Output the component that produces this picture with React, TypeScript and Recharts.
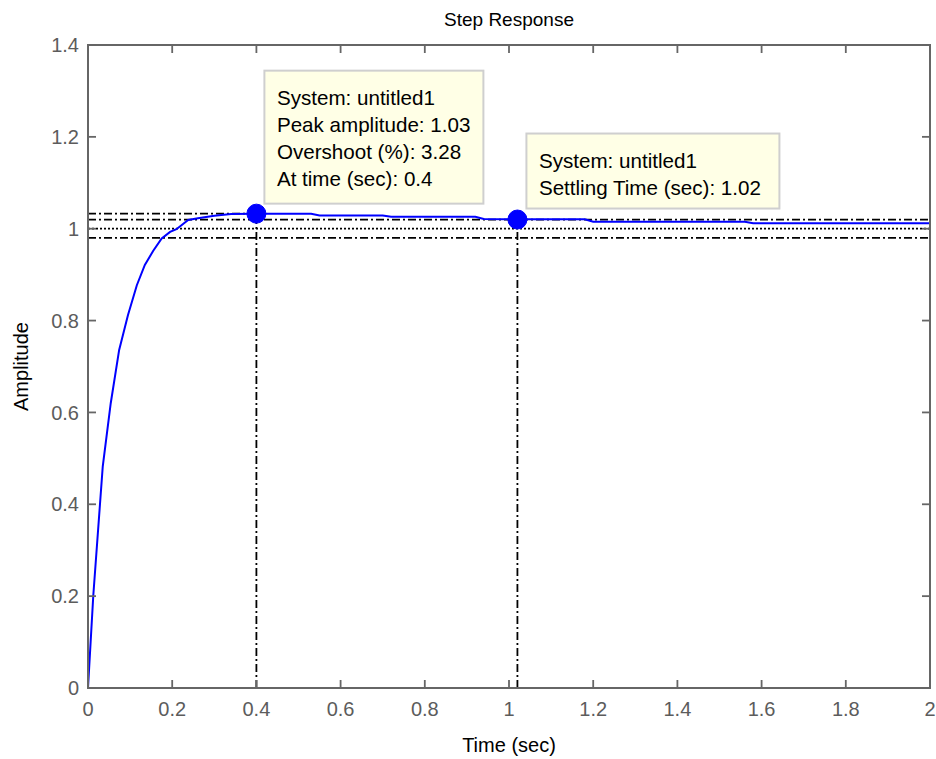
import React from 'react';
import { LineChart, Line, XAxis, YAxis, ReferenceLine, ReferenceDot, ReferenceArea, Label } from 'recharts';

const times = [0, 0.0126, 0.035, 0.054, 0.074, 0.095, 0.116, 0.135, 0.155, 0.175, 0.195, 0.21, 0.238, 0.261, 0.3, 0.34, 0.4, 0.53, 0.55, 0.7, 0.72, 0.92, 0.94, 1.02, 1.18, 1.2, 1.56, 1.58, 2.0];
const amplitude = [0, 0.202, 0.482, 0.62, 0.736, 0.812, 0.877, 0.921, 0.952, 0.979, 0.993, 0.999, 1.019, 1.023, 1.028, 1.032, 1.0328, 1.0325, 1.029, 1.029, 1.026, 1.026, 1.021, 1.0205, 1.0205, 1.015, 1.015, 1.012, 1.012];

const xTicks = [0, 0.2, 0.4, 0.6, 0.8, 1, 1.2, 1.4, 1.6, 1.8, 2];
const xTickLabels = ['0', '0.2', '0.4', '0.6', '0.8', '1', '1.2', '1.4', '1.6', '1.8', '2'];
const yTicks = [0, 0.2, 0.4, 0.6, 0.8, 1, 1.2, 1.4];
const yTickLabels = ['0', '0.2', '0.4', '0.6', '0.8', '1', '1.2', '1.4'];

const peakTime = 0.4;
const peakAmp = 1.0328;
const steadyState = 1.0;
const settleUpper = 1.02;
const settleLower = 0.98;
const settlingTime = 1.02;
const settlingAmp = 1.02;

const peakTip = ['System: untitled1', 'Peak amplitude: 1.03', 'Overshoot (%): 3.28', 'At time (sec): 0.4'];
const settleTip = ['System: untitled1', 'Settling Time (sec): 1.02'];

const data = times.map((t, i) => ({ t, v: amplitude[i] }));

const FONT = '"Liberation Sans", Arial, sans-serif';
const AXIS = '#666666';
const TICKTEXT = '#5c5c5c';
const TL = 8;
const DASHDOT = '8 3 2 3';
const RLW = 1.8;

const BottomTick = (p: any) => {
  const { x, y, payload } = p;
  return (
    <g>
      <line x1={x} x2={x} y1={y - 14} y2={y - 14 - TL} stroke={AXIS} strokeWidth={1.8} />
      <text x={x} y={y} dy="0.71em" textAnchor="middle" fill={TICKTEXT} fontSize={20} fontFamily={FONT}>
        {xTickLabels[xTicks.indexOf(payload.value)] ?? String(payload.value)}
      </text>
    </g>
  );
};

const LeftTick = (p: any) => {
  const { x, y, payload } = p;
  return (
    <g>
      <line x1={x + 9} x2={x + 9 + TL} y1={y} y2={y} stroke={AXIS} strokeWidth={1.8} />
      <text x={x} y={y} dy="0.36em" textAnchor="end" fill={TICKTEXT} fontSize={20} fontFamily={FONT}>
        {yTickLabels[yTicks.indexOf(payload.value)] ?? String(payload.value)}
      </text>
    </g>
  );
};

const TopTick = (p: any) => {
  const { x, y } = p;
  return <line x1={x} x2={x} y1={y} y2={y + TL} stroke={AXIS} strokeWidth={1.8} />;
};

const RightTick = (p: any) => {
  const { x, y } = p;
  return <line x1={x} x2={x - TL} y1={y} y2={y} stroke={AXIS} strokeWidth={1.8} />;
};

const makeTip = (lines: string[], dx: number, dy: number, w: number, h: number) => (p: any) => {
  const { cx, cy } = p;
  if (cx == null || cy == null) return <g />;
  const left = cx + dx;
  const top = cy - dy;
  return (
    <g>
      <rect x={left} y={top} width={w} height={h} fill="#ffffe6" stroke="#cfcfcf" strokeWidth={2} />
      {lines.map((s, i) => (
        <text key={i} x={left + 12.5} y={top + 34 + i * 27} fill="#000" fontSize={20.6} fontFamily={FONT}>
          {s}
        </text>
      ))}
    </g>
  );
};

const Marker = (p: any) => {
  const { cx, cy } = p;
  if (cx == null || cy == null) return <g />;
  return <circle cx={cx} cy={cy} r={9.5} fill="#0000ff" stroke="#0000ff" />;
};

const PeakTip = makeTip(peakTip, 8, 143, 219, 133);
const SettleTip = makeTip(settleTip, 9, 86, 253, 75);

export default function App() {
  return (
    <div style={{ position: 'absolute', left: 0, top: 0, width: 936, height: 759, background: '#fff' }}>
      <LineChart width={936} height={759} data={data} margin={{ top: 45, right: 6, bottom: 0, left: 0 }}>
        <XAxis
          dataKey="t"
          type="number"
          domain={[0, 2]}
          ticks={xTicks}
          interval={0}
          allowDataOverflow
          height={71}
          tickSize={0}
          tickMargin={14}
          tickLine={false}
          axisLine={{ stroke: AXIS, strokeWidth: 2 }}
          tick={BottomTick}
        >
          <Label value="Time (sec)" position="insideBottom" offset={7} fill="#000" fontSize={20} fontFamily={FONT} />
        </XAxis>
        <XAxis
          xAxisId="top"
          orientation="top"
          dataKey="t"
          type="number"
          domain={[0, 2]}
          ticks={xTicks}
          interval={0}
          allowDataOverflow
          mirror
          tickSize={0}
          tickMargin={0}
          tickLine={false}
          tick={TopTick}
          axisLine={{ stroke: AXIS, strokeWidth: 2 }}
        />
        <YAxis
          type="number"
          domain={[0, 1.4]}
          ticks={yTicks}
          interval={0}
          allowDataOverflow
          width={88}
          tickSize={0}
          tickMargin={9}
          tickLine={false}
          axisLine={{ stroke: AXIS, strokeWidth: 2 }}
          tick={LeftTick}
        >
          <Label value="Amplitude" angle={-90} position="insideLeft" offset={21} fill="#000" fontSize={20} fontFamily={FONT} style={{ textAnchor: 'middle' }} />
        </YAxis>
        <YAxis
          yAxisId="right"
          orientation="right"
          dataKey="v"
          type="number"
          domain={[0, 1.4]}
          ticks={yTicks}
          interval={0}
          allowDataOverflow
          mirror
          tickSize={0}
          tickMargin={0}
          tickLine={false}
          tick={RightTick}
          axisLine={{ stroke: AXIS, strokeWidth: 2 }}
        />
        <ReferenceArea x1={0} x2={2} y1={0} y2={1.4} fill="none" fillOpacity={0} stroke={AXIS} strokeWidth={2} />
        <ReferenceLine y={steadyState} stroke="#000" strokeWidth={RLW} strokeDasharray="2 2" />
        <ReferenceLine y={settleUpper} stroke="#000" strokeWidth={RLW} strokeDasharray={DASHDOT} />
        <ReferenceLine y={settleLower} stroke="#000" strokeWidth={RLW} strokeDasharray={DASHDOT} />
        <ReferenceLine segment={[{ x: 0, y: peakAmp }, { x: peakTime, y: peakAmp }]} stroke="#000" strokeWidth={RLW} strokeDasharray={DASHDOT} />
        <ReferenceLine segment={[{ x: peakTime, y: 0 }, { x: peakTime, y: peakAmp }]} stroke="#000" strokeWidth={RLW} strokeDasharray={DASHDOT} />
        <ReferenceLine segment={[{ x: settlingTime, y: 0 }, { x: settlingTime, y: settlingAmp }]} stroke="#000" strokeWidth={RLW} strokeDasharray={DASHDOT} />
        <Line type="linear" dataKey="v" stroke="#0000ff" strokeWidth={2} dot={false} activeDot={false} isAnimationActive={false} />
        <ReferenceDot x={peakTime} y={peakAmp} r={9.5} shape={Marker} />
        <ReferenceDot x={settlingTime} y={settlingAmp} r={9.5} shape={Marker} />
        <ReferenceDot x={peakTime} y={peakAmp} r={0} shape={PeakTip} />
        <ReferenceDot x={settlingTime} y={settlingAmp} r={0} shape={SettleTip} />
      </LineChart>
      <div
        style={{
          position: 'absolute',
          left: 88,
          width: 842,
          top: 9,
          textAlign: 'center',
          fontFamily: FONT,
          fontSize: 19,
          lineHeight: '22px',
          color: '#000',
        }}
      >
        Step Response
      </div>
    </div>
  );
}
